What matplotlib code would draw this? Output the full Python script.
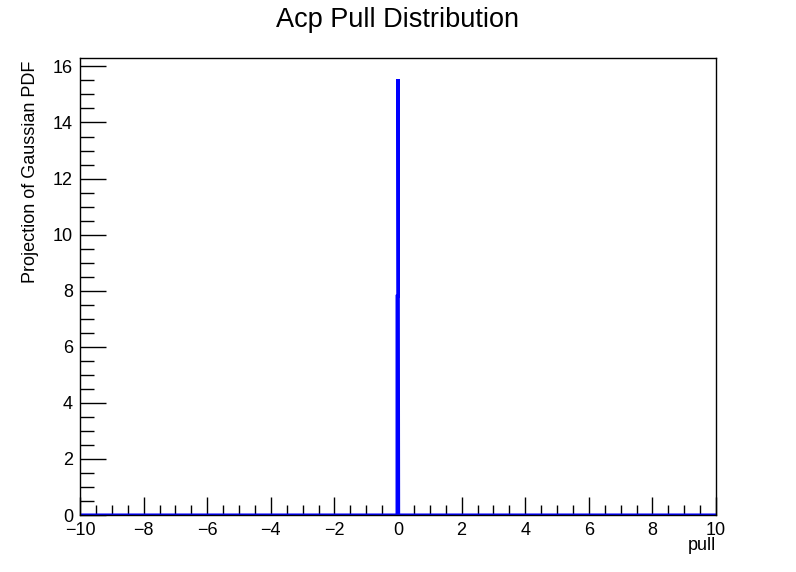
import matplotlib
matplotlib.use("Agg")
import matplotlib.pyplot as plt
from matplotlib.ticker import MultipleLocator

# curve points (Gaussian PDF projection)
pull_x = [-10.0, -0.03, -0.03, 0.0, 0.0, 0.02, 10.0]
pdf_y = [0.0, 0.0, 7.8, 7.8, 15.55, 0.0, 0.0]

title = "Acp Pull Distribution"
xlabel = "pull"
ylabel = "Projection of Gaussian PDF"

plt.rcParams['font.family'] = ['Liberation Sans', 'DejaVu Sans']

fig = plt.figure(figsize=(7.96, 5.72), dpi=100)
ax = fig.add_axes([80/796, 57/572, 636/796, 457/572])

ax.plot(pull_x, pdf_y, color="#0000ff", lw=2.2, solid_joinstyle="miter")

ax.set_xlim(-10, 10)
ax.set_ylim(0, 16.3)
ax.xaxis.set_major_locator(MultipleLocator(2))
ax.xaxis.set_minor_locator(MultipleLocator(0.5))
ax.yaxis.set_major_locator(MultipleLocator(2))
ax.yaxis.set_minor_locator(MultipleLocator(0.5))
ax.tick_params(axis="x", which="major", direction="in", length=13, width=1, labelsize=13, pad=5)
ax.tick_params(axis="x", which="minor", direction="in", length=7, width=1)
ax.tick_params(axis="y", which="major", direction="in", length=19, width=1, labelsize=13, pad=5)
ax.tick_params(axis="y", which="minor", direction="in", length=10, width=1)
for s in ax.spines.values():
    s.set_linewidth(1)

fig.text(0.5, 1 - 20/572, title, ha="center", va="center", fontsize=19.5)
fig.text(716/796, 1 - 546/572, xlabel, ha="right", va="center", fontsize=13)
fig.text(31/796, 1 - 61/572, ylabel, ha="center", va="top", rotation=90, fontsize=13)

fig.savefig("out.png", dpi=100)
